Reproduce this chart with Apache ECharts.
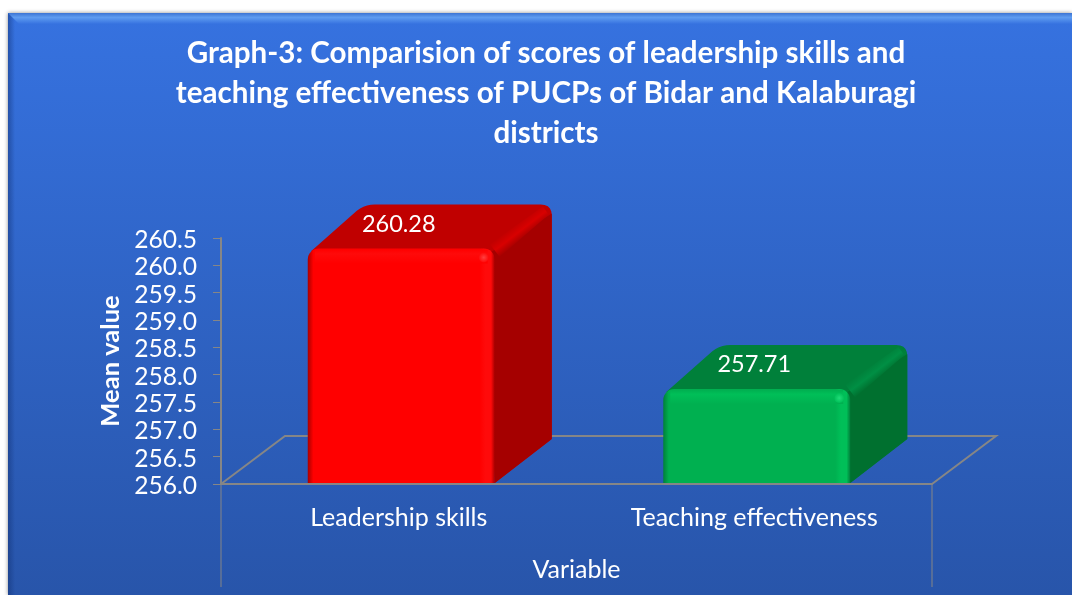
<!DOCTYPE html>
<html>

<head>
    <meta charset="utf-8">
    <script src="https://cdn.jsdelivr.net/npm/echarts@6/dist/echarts.min.js"></script>
    <style>
        html, body { margin: 0; padding: 0; background: #fff; overflow: hidden; }
    </style>
</head>

<body>
    <div id="main" style="width: 1072px;height:595px;"></div>
    <script type="text/javascript">
        var categories = ['Leadership skills', 'Teaching effectiveness'];
        var meanValues = [260.28, 257.71];
        var titleLines = [
            'Graph-3: Comparision of scores of leadership skills and',
            'teaching effectiveness of PUCPs of Bidar and Kalaburagi',
            'districts'
        ];

        // colours of each box: front face and its edges, top, top bevel, side
        var palette = [
            { edge: '#a80000', front: '#ff0000', light: '#ff0a0a', glint: '#ff4040', top: '#c00000', bevel: '#d80000', side: '#a50000' },
            { edge: '#00803a', front: '#00b050', light: '#00bf58', glint: '#20dc78', top: '#00803a', bevel: '#008f44', side: '#00702f' }
        ];
        var FONT = 'Lato';
        var GRAY = '#868686';

        // points of a rounded corner at c, going from p0 to p1
        function corner(p0, c, p1, r) {
            function toward(a, b) {
                var d = Math.hypot(b[0] - a[0], b[1] - a[1]);
                return [a[0] + (b[0] - a[0]) * r / d, a[1] + (b[1] - a[1]) * r / d];
            }
            var s = toward(c, p0), e = toward(c, p1), pts = [];
            for (var t = 0; t <= 1.001; t += 0.2) {
                pts.push([
                    (1 - t) * (1 - t) * s[0] + 2 * t * (1 - t) * c[0] + t * t * e[0],
                    (1 - t) * (1 - t) * s[1] + 2 * t * (1 - t) * c[1] + t * t * e[1]
                ]);
            }
            return pts;
        }

        function renderFloor(params, api) {
            var r = params.coordSys;
            var x0 = r.x, x1 = r.x + r.width, y = r.y + r.height;
            var dx = 64, dy = 48, lineStyle = { stroke: GRAY, lineWidth: 2, fill: null };
            return {
                type: 'group',
                children: [
                    { type: 'polyline', shape: { points: [[x0, y], [x0 + dx, y - dy], [x1 + dx, y - dy], [x1, y]] }, style: lineStyle },
                    { type: 'line', shape: { x1: x0, y1: y, x2: x0, y2: y + 103 }, style: { stroke: GRAY, lineWidth: 1 } },
                    { type: 'line', shape: { x1: x1, y1: y, x2: x1, y2: y + 103 }, style: { stroke: GRAY, lineWidth: 1 } }
                ]
            };
        }

        function renderBar(params, api) {
            var c = palette[params.dataIndex];
            var top = api.coord([api.value(0), api.value(1)]);
            var base = api.coord([api.value(0), 256]);
            var w = api.size([1, 0])[0] * 0.526;
            var x0 = top[0] - w / 2 + 2.5, x1 = x0 + w;
            var y0 = top[1] - 1.5, y1 = base[1] - 1;
            var dx = 57, dy = 44;
            var a = [x0, y0], b = [x0 + dx, y0 - dy], d = [x1 + dx, y0 - dy];
            var sb = [x1 + dx, y1 - dy], f = [x1, y1];

            var outline = [[x0 + 3, y0 + 3]]
                .concat(corner(a, b, d, 10))
                .concat(corner(b, d, sb, 11))
                .concat([sb, f, [x1 - 12, y0 + 12]]);
            var sideFace = [[x1 + dx, y0 - dy + 9], sb, f, [x1 - 6, y0 + 5]];

            // soft ridge between the top and the side, narrowing to the back corner
            var mx = x1, my = y0 + 2, hx = 5, hy = 6.5;
            var ex = x1 + dx - 6, ey = y0 - dy + 6;
            var bevel = [
                [mx - hx, my - hy], [ex - 3, ey - 4],
                [ex + 3, ey + 4], [mx + hx, my + hy]
            ];

            return {
                type: 'group',
                children: [
                    { type: 'polygon', shape: { points: outline }, style: { fill: c.top } },
                    { type: 'polygon', shape: { points: sideFace }, style: { fill: c.side } },
                    {
                        type: 'polygon',
                        shape: { points: bevel },
                        style: {
                            fill: new echarts.graphic.LinearGradient(mx - hx, my - hy, mx + hx, my + hy, [
                                { offset: 0, color: c.top },
                                { offset: 0.5, color: c.bevel },
                                { offset: 1, color: c.side }
                            ], true)
                        }
                    },
                    {
                        type: 'rect',
                        shape: { x: x0, y: y0, width: w, height: y1 - y0, r: [11, 11, 0, 0] },
                        style: {
                            fill: new echarts.graphic.LinearGradient(0, 0, 1, 0, [
                                { offset: 0, color: c.edge },
                                { offset: 0.03, color: c.front },
                                { offset: 0.92, color: c.front },
                                { offset: 0.95, color: c.light },
                                { offset: 0.98, color: c.light },
                                { offset: 1, color: c.edge }
                            ])
                        }
                    },
                    {
                        type: 'rect',
                        shape: { x: x0 + 7, y: y0 + 1, width: w - 14, height: 14 },
                        style: {
                            fill: new echarts.graphic.LinearGradient(0, 0, 0, 1, [
                                { offset: 0, color: c.front },
                                { offset: 0.3, color: c.light },
                                { offset: 1, color: c.front }
                            ])
                        }
                    },
                    {
                        type: 'circle',
                        shape: { cx: x1 - 11, cy: y0 + 9, r: 5 },
                        style: {
                            fill: new echarts.graphic.RadialGradient(0.5, 0.5, 0.5, [
                                { offset: 0, color: c.glint },
                                { offset: 1, color: c.light }
                            ])
                        }
                    },
                    {
                        type: 'text',
                        style: {
                            x: top[0], y: top[1] - 26, text: api.value(1).toFixed(2),
                            fill: '#fff', font: '23.5px ' + FONT, textAlign: 'center', textVerticalAlign: 'middle'
                        }
                    }
                ]
            };
        }

        var panelLeft = 8, panelTop = 13, bevelSize = 11;

        var option = {
            backgroundColor: '#ffffff',
            animation: false,
            textStyle: { fontFamily: FONT },
            title: {
                text: titleLines.join('\n'),
                left: 541, top: 28, textAlign: 'center',
                textStyle: { color: '#fff', fontFamily: FONT, fontWeight: 'bold', fontSize: 29.6, lineHeight: 40 }
            },
            grid: { left: 221, right: 140, top: 238, bottom: 111 },
            graphic: [
                {
                    type: 'rect', z: -10, silent: true,
                    shape: { x: panelLeft, y: panelTop, width: 1072 - panelLeft, height: 595 - panelTop },
                    style: {
                        fill: new echarts.graphic.LinearGradient(0, 0, 0, 1, [
                            { offset: 0, color: '#3672e0' },
                            { offset: 1, color: '#2855aa' }
                        ]),
                        shadowBlur: 4, shadowColor: 'rgba(0,0,0,0.45)'
                    }
                },
                {
                    type: 'rect', z: -9, silent: true,
                    shape: { x: panelLeft, y: panelTop, width: 7, height: 595 - panelTop },
                    style: {
                        fill: new echarts.graphic.LinearGradient(0, 0, 1, 0, [
                            { offset: 0, color: 'rgba(15,45,110,0.45)' },
                            { offset: 1, color: 'rgba(15,45,110,0)' }
                        ])
                    }
                },
                {
                    type: 'polygon', z: -8, silent: true,
                    shape: { points: [[panelLeft, panelTop], [1072, panelTop], [1072, panelTop + bevelSize], [panelLeft + bevelSize, panelTop + bevelSize]] },
                    style: {
                        fill: new echarts.graphic.LinearGradient(0, 0, 0, 1, [
                            { offset: 0, color: '#3c74d4' },
                            { offset: 0.4, color: '#5f9cf0' },
                            { offset: 1, color: '#3672e0' }
                        ])
                    }
                }
            ],
            xAxis: {
                type: 'category',
                data: categories,
                name: 'Variable',
                nameLocation: 'middle',
                nameGap: 73,
                nameTextStyle: { color: '#fff', fontSize: 25, fontFamily: FONT },
                axisLine: { lineStyle: { color: GRAY, width: 2 } },
                axisTick: { show: false },
                axisLabel: { color: '#fff', fontSize: 25, fontFamily: FONT, margin: 21 },
                splitLine: { show: false }
            },
            yAxis: {
                type: 'value',
                min: 256,
                max: 260.5,
                interval: 0.5,
                name: 'Mean value',
                nameLocation: 'middle',
                nameGap: 97,
                nameMoveOverlap: false,
                nameTextStyle: { color: '#fff', fontSize: 25.5, fontWeight: 'bold', fontFamily: FONT },
                axisLine: { show: true, lineStyle: { color: GRAY, width: 2 } },
                axisTick: { show: true, length: 8, lineStyle: { color: GRAY, width: 1 } },
                axisLabel: {
                    margin: 24,
                    formatter: function (v) { return '{v|' + v.toFixed(1) + '}'; },
                    rich: { v: { color: '#fff', fontSize: 24.6, fontFamily: FONT, padding: [4, 0, 0, 0] } }
                },
                splitLine: { show: false }
            },
            series: [
                {
                    name: 'floor',
                    type: 'custom',
                    z: 1,
                    silent: true,
                    renderItem: renderFloor,
                    data: [[0, 256]]
                },
                {
                    name: 'Mean value',
                    type: 'custom',
                    z: 3,
                    renderItem: renderBar,
                    encode: { x: 0, y: 1 },
                    data: meanValues.map(function (v, i) { return [i, v]; })
                }
            ]
        };

        var myChart = echarts.init(document.getElementById('main'), null, { renderer: 'canvas' });
        myChart.setOption(option);
    </script>
</body>

</html>
